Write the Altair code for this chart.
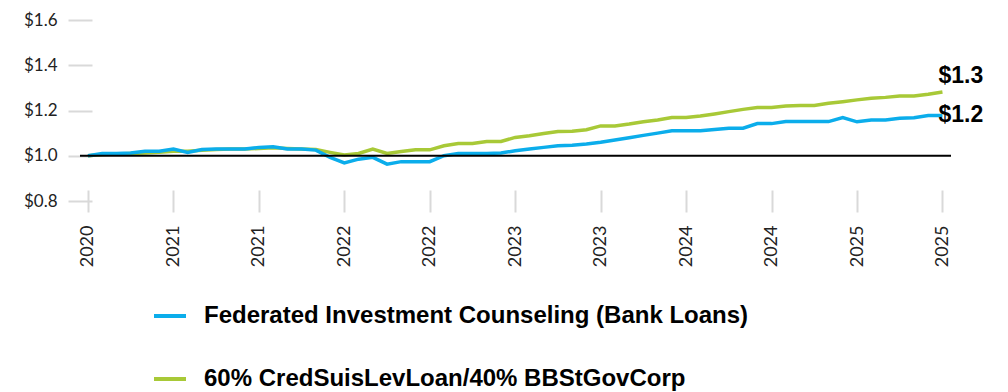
import json
import altair as alt
import pandas as pd

series_names = ["Federated Investment Counseling (Bank Loans)", "60% CredSuisLevLoan/40% BBStGovCorp"]
series_colors = ["#0BADEB", "#A8C937"]

fund_values = [
    1.000, 1.010, 1.010, 1.012, 1.020, 1.020, 1.030, 1.015, 1.028, 1.030,
    1.030, 1.030, 1.037, 1.040, 1.030, 1.030, 1.025, 0.993, 0.968, 0.985,
    0.993, 0.963, 0.974, 0.974, 0.974, 1.000, 1.010, 1.010, 1.010, 1.012,
    1.022, 1.030, 1.037, 1.044, 1.046, 1.052, 1.060, 1.070, 1.080, 1.090,
    1.100, 1.110, 1.110, 1.110, 1.116, 1.122, 1.122, 1.142, 1.142, 1.151,
    1.151, 1.151, 1.151, 1.169, 1.150, 1.158, 1.158, 1.166, 1.168, 1.178,
    1.178,
]
index_values = [
    1.000, 1.005, 1.008, 1.010, 1.012, 1.015, 1.020, 1.020, 1.024, 1.028,
    1.030, 1.030, 1.032, 1.035, 1.032, 1.030, 1.028, 1.015, 1.003, 1.010,
    1.030, 1.010, 1.019, 1.026, 1.026, 1.044, 1.054, 1.054, 1.063, 1.063,
    1.081, 1.088, 1.098, 1.107, 1.108, 1.115, 1.132, 1.132, 1.140, 1.150,
    1.158, 1.169, 1.169, 1.176, 1.185, 1.195, 1.205, 1.213, 1.213, 1.220,
    1.222, 1.222, 1.232, 1.239, 1.247, 1.254, 1.258, 1.264, 1.264, 1.272,
    1.282,
]
tick_labels = ["2020", "2021", "2021", "2022", "2022", "2023", "2023", "2024", "2024", "2025", "2025"]
tick_positions = list(range(0, 61, 6))
y_ticks = [0.8, 1.0, 1.2, 1.4, 1.6]
baseline = [1.0]

rows = []
for name, vals in [(series_names[1], index_values), (series_names[0], fund_values)]:
    for i, v in enumerate(vals):
        rows.append({"i": i, "value": v, "series": name})
df = pd.DataFrame(rows)
last_i = len(fund_values) - 1

W, H = 871, 181
x_scale = alt.Scale(domain=[-0.56, 60.6], nice=False, zero=False)
y_scale = alt.Scale(domain=[0.8, 1.6], nice=False, zero=False)

label_expr = json.dumps(tick_labels) + "[round(datum.value / 6)]"

x_axis = alt.Axis(
    values=tick_positions, labelExpr=label_expr, labelAngle=270, labelAlign="right",
    labelBaseline="middle", tickSize=22, offset=-11, domain=False, grid=False,
    tickColor="#d9d9d9", tickWidth=2, labelFont="Lato", labelFontSize=18,
    labelColor="#222222", labelPadding=13, title=None,
)
y_axis = alt.Axis(
    values=y_ticks, format="$.1f", tickSize=24, offset=-12, domain=False, grid=False,
    tickColor="#d9d9d9", tickWidth=2, labelFont="Lato", labelFontSize=17,
    labelColor="#222222", labelPadding=11, title=None,
)

X = alt.X("i:Q", scale=x_scale, axis=x_axis)
Y = alt.Y("value:Q", scale=y_scale, axis=y_axis)

lines = alt.Chart(df).mark_line(strokeWidth=3.5).encode(
    x=X,
    y=Y,
    color=alt.Color(
        "series:N",
        scale=alt.Scale(domain=series_names, range=series_colors),
        legend=alt.Legend(
            orient="none", legendX=72, legendY=278, direction="vertical", title=None,
            symbolType="stroke", symbolSize=1024, symbolStrokeWidth=4,
            labelFont="Liberation Sans", labelFontWeight="bold", labelFontSize=24,
            labelColor="#000000", labelOffset=16, rowPadding=33, padding=0,
            labelLimit=0,
        ),
    ),
    detail="series:N",
)

rule = alt.Chart(pd.DataFrame({"value": baseline})).mark_rule(color="black", strokeWidth=2).encode(
    y=Y
)

end = alt.Chart(df).transform_filter(alt.datum.i == last_i)

text_top = end.transform_filter(alt.datum.series == series_names[1]).mark_text(
    align="left", baseline="alphabetic", dx=-4, dy=-9,
    font="Liberation Sans", fontWeight="bold", fontSize=23, color="black",
).encode(
    x=X,
    y=Y,
    text=alt.Text("value:Q", format="$.1f"),
)
text_bot = end.transform_filter(alt.datum.series == series_names[0]).mark_text(
    align="left", baseline="alphabetic", dx=-4, dy=7,
    font="Liberation Sans", fontWeight="bold", fontSize=23, color="black",
).encode(
    x=X,
    y=Y,
    text=alt.Text("value:Q", format="$.1f"),
)

chart = alt.layer(lines, rule, text_top, text_bot).properties(
    width=W, height=H,
    autosize=alt.AutoSizeParams(type="none"),
    padding={"left": 72, "top": 12, "right": 49, "bottom": 191},
).configure_view(strokeWidth=0)

chart.save("out.html", embed_options={"renderer": "svg", "actions": False})
